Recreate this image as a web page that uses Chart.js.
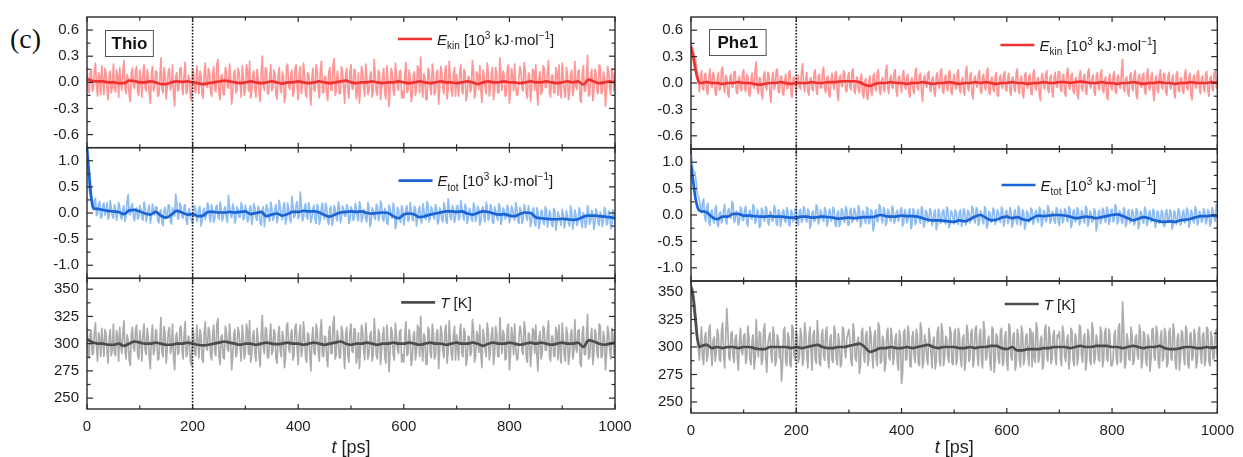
<!DOCTYPE html>
<html>
<head>
<meta charset="utf-8">
<script src="https://cdn.jsdelivr.net/npm/chart.js@4.4.1/dist/chart.umd.min.js"></script>
<style>
  html, body { margin: 0; padding: 0; background: #fff; }
  body { width: 1243px; height: 457px; position: relative; overflow: hidden; }
  .panel { position: absolute; top: 0; height: 457px; }
  #left { left: 0; width: 645px; }
  #right { left: 620px; width: 623px; }
  #tag { position: absolute; left: 10px; top: 23px; font-family: "Liberation Serif", "DejaVu Serif", serif; font-size: 28px; color: #111; }
</style>
</head>
<body>
<div id="tag">(c)</div>
<div class="panel" id="left"><canvas id="cLeft" width="645" height="457"></canvas></div>
<div class="panel" id="right"><canvas id="cRight" width="623" height="457"></canvas></div>
<script>
// ---------- time axes ----------
const RAW_STEP = 2;                 // ps between raw samples (0 … 1000)
const avgTime = [0, 4, 8, 12, 16].concat(Array.from({ length: 99 }, (_, i) => 20 + 10 * i));
const timeTicks = [0, 200, 400, 600, 800, 1000];
const markTime = 200;               // dotted marker

// ---------- tick labels ----------
const ekinTicks = [-0.6, -0.3, 0, 0.3, 0.6];
const etotTicks = [-1, -0.5, 0, 0.5, 1];
const tempTicks = [250, 275, 300, 325, 350];

// ---------- Thio: raw traces ----------
const thioEkinRaw = [
  .18,-.05,-.12,.09,.15,-.1,-.08,.13,.22,-.03,-.16,.11,.05,-.14,.19,.02,-.14,.16,.1,-.09,-.2,.07,.13,-.12,-.05,
  .21,-.08,-.11,.14,.08,-.17,.17,-.02,-.09,.12,.25,-.06,-.13,.09,.04,-.15,-.22,.1,.16,-.04,-.07,.14,.18,-.11,-.15,
  .14,.03,-.17,.11,.2,-.06,-.1,.15,.06,-.13,-.24,.08,.18,-.1,-.06,.13,.12,-.16,-.15,.05,.28,-.08,-.12,.17,.09,
  -.19,-.05,.12,.16,-.09,-.04,.2,-.14,-.27,.07,.11,-.1,-.08,.15,.17,-.06,-.14,.11,.23,-.13,-.1,.08,.05,-.18,-.21,
  .15,.1,-.09,-.12,.19,.06,-.13,.13,.07,-.15,-.18,.1,.22,-.04,-.06,.16,.12,-.11,-.16,.09,.18,-.08,-.11,.21,.26,
  -.13,-.2,.07,.09,-.14,-.14,.17,.12,-.05,-.07,.21,.04,-.25,-.12,.1,.14,-.12,-.09,.16,.11,-.03,-.17,.19,.06,-.15,
  -.08,.2,.13,-.1,.24,-.18,-.1,.07,.13,-.09,-.17,.15,.06,-.12,-.22,.1,.3,-.04,-.09,.17,.15,-.13,-.13,.06,.2,
  -.1,-.06,.14,.1,-.15,-.19,.08,.17,-.07,-.12,.12,.07,-.23,-.14,.18,.21,-.05,-.08,.1,.14,-.16,-.11,.16,.2,-.05,
  -.2,.1,.18,-.13,-.05,.22,.09,-.14,-.17,.11,.09,-.1,-.26,.05,.16,-.08,-.1,.2,.13,-.07,-.18,.15,.24,-.11,-.12,
  .07,.06,-.13,-.21,.12,.17,-.09,-.09,.2,.27,-.15,-.1,.13,.05,-.13,-.13,.18,.12,-.06,-.24,.1,.16,-.1,-.18,.12,
  .2,-.07,-.08,.15,.14,-.19,-.12,.11,-.24,-.04,.18,.13,-.06,-.16,.21,.05,-.14,-.09,.09,.12,-.17,-.11,.26,.08,-.11,
  -.15,.14,.1,-.2,-.06,.07,.16,-.13,-.19,.19,.02,-.28,-.08,.16,.11,-.1,-.15,.22,.09,-.05,-.09,.12,.14,-.18,-.1,
  -.18,.09,.23,-.12,-.09,.14,.06,-.22,-.14,.08,.12,-.15,-.08,.19,.15,-.12,.29,-.04,-.17,.1,.06,-.2,-.2,.16,.13,
  -.08,-.14,.21,.1,-.14,-.11,.11,.14,-.25,-.06,.18,.11,-.07,-.13,.13,.19,-.19,-.08,.24,.05,-.1,-.16,.09,.17,-.16,
  .09,-.05,-.16,.13,.2,-.09,-.13,.15,.11,-.21,-.15,.07,.06,-.11,-.08,.25,.14,-.18,-.12,.12,.09,-.08,.19,-.1,-.23,
  .14,.08,-.05,-.13,.22,.12,-.16,-.06,.1,.17,-.2,-.09,.17,.1,-.12,-.12,.28,.05,-.09,.13,.09,-.16,-.14,.15,.2,
  -.24,-.1,.16,.07,-.1,.21,-.05,-.15,-.14,.06,.18,.12,-.07,-.1,.23,.14,-.13,-.18,.11,.09,-.22,-.07,.15,.13,-.09,
  .2,-.1,-.26,.06,.12,-.14,-.1,.19,.16,-.06,-.06,.11,.25,-.12,-.17,.08,.08,-.12,-.12,.17,.12,-.15,.2,-.08,-.18,
  .22,.05,-.11,-.17,.17,.09,-.2,-.11,.1,.14,-.15,-.08,.24,-.05,-.08,.13,.14,-.2,-.23,.11,.19,-.1,-.1,.07,.31,
  -.16,-.14,.07,.15,-.21,-.09,.15,.1,-.09,-.13,.2,.18,-.13,-.11,.12,.06,-.27,-.1,.18,.11,-.06,-.14,.16,.09,-.1,
  .12
];
const thioEtotRaw = [
  1.25,.8,.45,.35,.3,.12,.05,.24,.28,-.05,-.02,.18,.22,-.1,-.08,.15,.19,-.04,.02,.2,-.12,-.06,.24,.1,-.05,
  -.1,.16,.08,-.14,-.02,.2,.12,-.09,-.12,.08,.14,-.16,-.05,.22,.35,-.02,-.03,.12,.18,-.08,-.15,.06,.1,-.12,-.08,
  .14,.07,-.1,-.14,.21,.1,-.16,-.05,.08,.15,-.2,-.08,.17,.03,-.04,.12,.12,-.14,-.19,.02,.06,-.18,-.24,.05,.11,
  -.06,-.08,.15,.15,-.17,-.21,.1,.04,-.06,.36,.2,-.12,-.09,.19,.12,-.07,-.1,.13,.16,-.16,-.22,.04,.09,-.1,-.14,
  -.2,.03,.14,.06,-.16,-.1,.1,.12,-.25,-.15,.05,.09,-.12,-.05,.19,.14,-.09,-.17,.16,.03,-.18,-.1,.11,.15,-.06,
  -.12,.21,.1,-.15,-.09,.08,.12,-.11,-.18,.34,.12,-.04,-.09,.17,.1,-.19,-.11,.12,.06,-.08,-.08,.2,.13,-.13,-.1,
  .15,.05,-.17,-.12,.09,.14,-.22,-.1,.18,.1,-.1,-.14,.13,.07,-.2,-.23,.06,.12,-.26,-.05,.16,.09,-.08,-.16,.21,
  .1,-.14,-.1,.1,.16,-.19,-.07,.24,.11,-.06,-.13,.14,.2,-.21,-.12,.19,.08,-.12,-.18,.32,.15,-.09,-.05,.17,.22,
  -.11,-.06,.4,.12,-.15,-.1,.12,.18,-.07,-.12,.2,.07,-.18,-.09,.09,.15,-.13,-.2,.17,.1,-.22,-.14,.11,.19,-.05,
  -.12,.19,.1,-.16,-.22,.08,.13,-.24,-.16,.14,.09,-.1,-.15,.21,.12,-.19,-.1,.13,.08,-.06,-.06,.16,.11,-.2,-.14,
  .12,.06,-.14,-.1,.18,.1,-.09,-.15,.22,.13,-.17,-.1,.07,.04,-.12,-.17,.2,.12,-.26,-.18,.1,.05,-.08,-.12,.17,
  .12,-.15,-.08,.23,.15,-.11,-.16,.09,.02,-.2,-.22,.15,.09,-.05,-.1,.19,.08,-.3,-.2,.11,.06,-.13,-.18,.14,.05,
  -.23,-.1,.08,.14,-.16,-.12,.2,.06,-.1,-.15,.13,.09,-.25,-.09,.06,.13,-.14,-.19,.18,.05,-.09,-.12,.22,.15,-.17,
  -.1,.12,.07,-.07,-.12,.16,.09,-.21,-.15,.1,.04,-.12,-.17,.2,.12,-.15,-.2,.27,.1,-.08,-.13,.14,.07,-.18,-.08,
  .11,.15,-.13,-.09,.24,.1,-.06,-.14,.17,.11,-.2,-.1,.09,.06,-.11,-.16,.19,.12,-.16,-.06,.13,.08,-.23,-.15,.08,
  .12,-.1,-.17,.21,.11,-.14,-.08,.16,.1,-.18,-.2,.12,.05,-.07,-.14,.18,.13,-.22,-.12,.1,.06,-.12,-.07,.15,.09,
  -.19,-.1,.13,.08,-.09,-.14,.2,.11,-.15,-.2,.11,.05,-.2,-.12,.16,.09,-.08,-.14,.14,.02,-.26,-.16,.06,.1,-.21,
  -.25,.1,.03,-.3,-.18,.03,.05,-.18,-.22,.12,.06,-.27,-.15,.05,-.02,-.22,-.26,.09,.04,-.33,-.2,.02,-.05,-.16,-.24,
  .07,-.02,-.29,-.18,.04,-.05,-.2,-.25,.13,.02,-.31,-.19,.06,-.04,-.24,-.16,.1,.03,-.17,-.28,.01,-.06,-.28,-.2,.14,
  .04,-.22,-.15,.05,-.02,-.32,-.2,.08,.01,-.19,-.24,.02,-.04,-.26,-.16,.11,.05,-.23,-.2,.04,-.03,-.3,-.22,.06,.02,
  -.2
];
const thioTempRaw = [
  316,296,287,309,312,290,291,311,319,297,284,310,305,288,314,301,288,313,309,292,282,306,313,289,295,
  318,291,289,312,307,284,315,298,291,310,321,294,286,308,303,285,280,309,315,296,293,313,317,289,286,
  312,302,284,310,318,294,290,314,306,287,277,307,317,290,294,313,311,285,286,304,324,292,288,316,309,
  282,296,311,315,291,296,318,287,276,306,310,290,292,314,316,294,286,309,320,288,290,307,304,283,280,
  314,309,291,289,317,305,287,313,307,286,283,310,320,296,294,315,312,289,285,308,317,292,289,318,323,
  288,281,306,308,287,286,316,311,295,293,318,303,276,288,309,313,288,291,315,310,297,284,317,305,286,
  292,318,312,290,321,283,290,307,312,291,284,314,305,288,279,309,326,296,291,315,313,287,287,306,318,
  290,294,313,309,286,282,308,316,293,288,311,306,278,287,316,319,295,292,309,313,285,289,315,318,295,
  281,309,317,288,295,320,308,287,283,310,308,290,275,305,315,292,290,318,312,293,284,313,322,289,288,
  307,306,287,279,311,316,291,291,318,325,286,290,312,305,287,287,316,311,294,277,309,315,290,283,311,
  318,293,292,314,313,282,288,310,277,296,317,312,294,285,319,305,286,291,308,311,284,289,323,307,289,
  286,313,309,281,294,307,315,288,282,317,302,274,292,315,310,290,285,319,308,295,291,311,313,283,290,
  283,308,320,289,291,313,306,280,286,307,311,285,292,317,314,288,325,296,284,309,306,281,281,315,312,
  292,287,318,309,286,289,310,313,277,294,316,310,293,287,312,317,282,292,321,305,290,285,308,316,285,
  308,295,285,312,318,291,288,314,310,280,286,307,306,289,292,322,313,283,288,311,308,292,317,290,278,
  313,307,295,288,319,311,285,294,309,315,281,291,316,309,288,288,324,305,291,312,308,285,287,314,318,
  276,290,315,306,290,318,296,285,286,305,316,311,293,290,320,313,287,283,310,308,279,293,314,312,291,
  317,290,275,306,311,286,291,316,314,294,294,310,321,288,284,307,307,289,288,315,311,285,317,292,282,
  319,305,289,284,315,308,281,290,309,313,286,292,322,296,292,312,313,282,279,310,316,290,290,306,327,
  286,288,306,314,281,291,313,309,291,287,318,316,287,289,311,305,276,290,316,310,294,286,314,308,290,
  311
];

// ---------- Thio: running averages ----------
const thioEkinAvg = [
  .04,.03,.02,.015,.01,
  .01,.01,0,0,-.01,-.01,.02,.015,0,0,
  .01,0,-.02,-.02,0,.01,.005,.01,0,-.01,
  -.02,-.01,0,.01,.02,.01,0,-.01,0,.01,
  0,-.01,0,.01,0,-.015,0,0,.01,0,
  -.01,0,.01,0,-.01,0,.01,.02,0,-.01,
  0,0,.01,0,-.01,0,0,.01,0,-.01,
  0,.01,0,-.01,0,.01,0,0,-.01,0,
  .01,0,-.02,0,.01,0,0,.01,0,0,
  -.01,0,.01,0,0,.01,0,-.01,0,.01,
  0,.01,-.025,.03,.01,-.01,0,.01,0
];
const thioEtotAvg = [
  1.25,.75,.3,.1,.08,
  .08,.06,.04,.03,.02,-.02,.05,.06,.03,-.01,
  -.03,.02,-.05,-.09,-.03,.04,.01,-.03,-.02,-.06,
  -.05,.02,.02,.01,.01,.02,.01,.02,.03,-.02,
  0,.02,-.06,-.03,-.01,-.05,-.02,.02,.02,.04,
  .03,.03,.01,-.04,-.07,-.03,.01,.02,.03,.02,
  .03,0,-.01,0,.01,0,-.06,-.1,-.03,-.01,
  -.03,-.08,-.06,-.03,-.01,.01,.03,.03,.02,.03,
  -.01,-.03,0,.03,.02,-.01,-.03,-.02,-.05,-.06,
  -.02,.01,0,-.08,-.1,-.11,-.12,-.12,-.11,-.12,
  -.13,-.12,-.07,-.05,-.05,-.06,-.07,-.08,-.1
];
const thioTempAvg = [
  304,303,302,301,300.5,
  300,300,299,299,300,298,300,302,301,300,
  300,301,300,299,299,300,300,301,300,299,
  298.5,299,300,301,302,301,300,299,300,300,
  299,300,301,300,299.5,300,301,300,300,299,
  300,301,300,299,300,301,302,300,299,300,
  300,301,300,299,300,300,301,300,300,301,
  300,299,300,301,300,300,299,300,301,300,
  300,301,300,298,300,301,300,300,301,300,
  299,300,301,300,301,300,299,300,301,300,
  300,301,297,303,302,300,299,300,301
];

// ---------- Phe1: raw traces ----------
const pheEkinRaw = [
  .44,.41,.36,.33,.28,.2,.12,.03,-.1,.08,.14,-.06,-.08,.1,.11,-.09,-.13,.06,.16,-.02,-.05,.12,.09,-.11,-.14,
  .05,.12,-.08,-.07,.15,.18,-.04,-.11,.09,.06,-.13,-.16,.07,.1,-.05,-.04,.13,.13,-.1,-.12,.03,.08,-.07,-.09,.11,
  .15,-.06,-.1,.1,.07,-.12,-.15,.04,.11,-.03,-.06,.16,.24,-.08,-.12,.06,.05,-.14,-.18,.09,.13,-.04,-.08,.12,.1,
  -.13,-.22,.05,.12,-.07,-.03,.14,.16,-.1,-.11,.07,.08,-.12,-.14,.03,.1,-.06,-.06,.12,.14,-.11,-.16,.05,.07,-.02,
  -.12,.06,.09,-.05,-.07,.12,.22,-.02,-.1,.05,.12,-.09,-.14,.04,.06,-.07,-.09,.12,.15,-.08,-.13,.08,.1,-.06,-.05,
  .13,.18,-.07,-.11,.05,.08,-.13,-.16,.04,.11,-.02,-.07,.11,.13,-.12,-.2,.06,.09,-.03,-.04,.14,.11,-.09,-.1,.07,
  .12,-.04,-.08,.13,.16,-.09,-.12,.04,.07,-.08,-.11,.06,.1,-.12,-.17,.02,.05,-.15,-.19,.03,.08,-.1,-.14,.07,.11,
  -.06,-.09,.12,.15,-.08,-.13,.03,.06,-.07,-.1,.14,.2,-.06,-.12,.05,.09,-.05,-.06,.13,.15,-.1,-.15,.06,.08,-.02,
  -.11,.09,.14,-.04,-.07,.07,.1,-.12,-.16,.03,.06,-.08,-.12,.13,.17,-.05,-.08,.09,.11,-.1,-.21,.04,.09,-.03,-.05,
  .11,.13,-.07,-.1,.05,.07,-.11,-.15,.08,.12,-.03,-.06,.14,.16,-.09,-.12,.06,.09,-.05,-.09,.12,.14,-.1,-.13,.02,
  .1,-.04,-.07,.11,.15,-.07,-.11,.03,.06,-.1,-.14,.13,.19,-.06,-.09,.08,.12,-.13,-.18,.05,.08,-.02,-.05,.1,.14,
  -.09,-.12,.07,.1,-.05,-.08,.13,.17,-.1,-.13,.04,.07,-.07,-.1,.08,.12,-.13,-.15,.05,.09,-.03,-.06,.1,.13,-.08,
  -.09,.06,.11,-.1,-.14,.05,.07,-.07,-.1,.12,.16,-.08,-.12,.04,.08,-.13,-.17,.09,.12,-.04,-.06,.07,.1,-.12,-.13,
  .11,.15,-.05,-.08,.04,.06,-.14,-.2,.08,.11,-.04,-.07,.1,.14,-.08,-.11,.06,.09,-.1,-.16,.07,.12,-.03,-.05,.13,
  .13,-.07,-.1,.08,.1,-.12,-.15,.11,.17,-.04,-.07,.08,.11,-.09,-.12,.04,.06,-.13,-.18,.09,.14,-.06,-.09,.07,.1,
  -.11,-.13,.12,.16,-.03,-.06,.05,.09,-.1,-.14,.08,.12,-.05,-.08,.11,.15,-.08,-.11,.04,.07,-.15,-.19,.06,.1,-.04,
  -.08,.08,.13,-.09,-.12,.06,.09,-.04,-.06,.14,.27,-.07,-.1,.05,.07,-.12,-.15,.09,.12,-.06,-.09,.1,.14,-.14,-.18,
  .07,.1,-.03,-.05,.09,.11,-.1,-.13,.1,.16,-.05,-.08,.07,.12,-.12,-.2,.04,.08,-.08,-.11,.09,.15,-.04,-.07,.11,
  .1,-.1,-.14,.07,.12,-.04,-.07,.05,.09,-.12,-.17,.09,.13,-.08,-.1,.05,.06,-.09,-.12,.1,.15,-.05,-.08,.07,.11,
  -.14,-.19,.05,.09,-.03,-.06,.1,.14,-.07,-.12,.06,.08,-.06,-.1,.11,.13,-.09,-.15,.04,.08,-.06,-.09,.12,.13,-.05,
  -.06
];
const pheEtotRaw = [
  1.2,1.0,.86,.82,.78,.6,.4,.35,.28,.1,.04,.25,.3,-.05,-.12,.15,.22,-.14,-.2,.05,.1,-.1,-.15,.12,.18,
  -.18,-.22,.02,.06,-.15,-.09,.1,.2,-.1,-.17,.08,.12,-.03,-.06,.26,.2,-.14,-.1,.08,.04,-.19,-.12,.15,.11,-.1,
  -.1,.1,.17,-.15,-.21,.03,.09,-.05,-.08,.2,.14,-.16,-.1,.11,.05,-.24,-.2,.13,.1,-.08,-.12,.16,.12,-.14,-.19,
  .07,.05,-.12,-.09,.18,.12,-.15,-.2,.1,.06,-.22,-.1,.06,.1,-.11,-.14,.14,.09,-.18,-.21,.09,.05,-.13,-.09,.12,
  .12,-.15,-.2,.08,.11,-.14,-.1,.16,.12,-.09,-.13,.11,.07,-.25,-.18,.05,.08,-.13,-.09,.19,.15,-.17,-.1,.1,.03,
  -.08,-.12,.14,.09,-.21,-.16,.07,.11,-.12,-.08,.15,.1,-.18,-.22,.04,.08,-.22,-.14,.12,.09,-.1,-.14,.16,.1,-.19,
  -.19,.09,.13,-.14,-.1,.13,.07,-.06,-.12,.18,.12,-.23,-.15,.08,.05,-.11,-.16,.15,.11,-.17,-.12,.1,.06,-.3,-.2,
  .06,.1,-.13,-.08,.2,.14,-.09,-.15,.14,.1,-.2,-.14,.11,.07,-.07,-.12,.17,.12,-.16,-.1,.05,.09,-.12,-.06,.1,
  .14,-.21,-.15,.1,.05,-.15,-.1,.08,.12,-.26,-.18,.12,.08,-.18,-.14,.06,.1,-.11,-.16,.16,.11,-.23,-.16,.09,.05,
  -.14,-.1,.12,.08,-.2,-.13,.05,.1,-.28,-.2,.11,.06,-.16,-.12,.07,.1,-.12,-.17,.15,.1,-.24,-.18,.08,.04,-.06,
  -.17,.1,.06,-.13,-.18,.06,.1,-.22,-.14,.12,.08,-.19,-.12,.09,.05,-.15,-.1,.17,.12,-.1,-.15,.14,.1,-.2,-.13,
  .08,.03,-.12,-.17,.16,.11,-.25,-.18,.07,.04,-.14,-.09,.13,.09,-.18,-.12,.1,.06,-.09,-.14,.15,.1,-.21,-.15,.06,
  .09,-.16,-.1,.14,.08,-.23,-.16,.06,.1,-.12,-.18,.17,.11,-.19,-.13,.1,.05,-.27,-.18,.08,.04,-.14,-.1,.13,.09,
  -.18,-.12,.05,.09,-.1,-.14,.15,.1,-.22,-.15,.09,.05,-.13,-.09,.18,.12,-.16,-.11,.07,.03,-.11,-.16,.14,.1,-.15,
  -.2,.1,.06,-.15,-.1,.12,.08,-.08,-.13,.16,.11,-.24,-.17,.06,.1,-.13,-.09,.14,.1,-.19,-.13,.09,.05,-.11,-.15,
  .17,.12,-.21,-.15,.08,.04,-.14,-.1,.12,.08,-.3,-.2,.05,.09,-.16,-.1,.13,.09,-.09,-.14,.15,.1,-.18,-.12,.1,
  .11,-.13,-.09,.2,.14,-.17,-.12,.08,.05,-.12,-.16,.14,.1,-.22,-.15,.06,.1,-.15,-.1,.1,.06,-.19,-.13,.12,.08,
  -.26,-.18,.07,.04,-.11,-.16,.15,.1,-.2,-.14,.04,.08,-.13,-.09,.11,.07,-.24,-.16,.08,.04,-.16,-.11,.09,.05,-.2,
  -.22,.06,.1,-.14,-.1,.1,.06,-.27,-.19,.08,.04,-.18,-.12,.12,.08,-.2,-.14,.05,.09,-.15,-.1,.13,.09,-.23,-.16,
  .09,.05,-.11,-.15,.16,.1,-.19,-.13,.07,.03,-.14,-.1,.12,.08,-.17,-.12,.1,.06,-.21,-.15,.14,.09,-.08,-.12,.2,
  .2
];
const pheTempRaw = [
  356,354,352,345,336,325,312,298,288,306,318,290,284,309,313,287,292,315,320,296,283,306,309,287,295,
  316,311,289,287,314,322,293,281,309,335,316,290,288,312,314,291,286,308,311,290,279,305,317,296,293,
  310,312,285,290,319,309,289,284,306,311,280,290,325,299,291,314,312,284,288,316,321,290,277,302,309,
  313,294,286,318,312,283,287,311,307,290,300,269,285,315,318,287,283,313,309,284,282,320,317,291,288,
  314,309,286,291,317,310,283,289,322,312,293,281,309,318,297,279,311,315,289,285,324,310,285,283,311,
  316,292,288,314,318,290,281,307,311,288,286,319,314,289,284,312,304,282,285,318,316,297,290,308,312,
  316,305,287,283,321,314,290,287,305,309,276,283,314,317,293,286,311,314,283,288,318,311,292,281,309,
  315,289,283,322,318,285,287,310,306,278,284,313,317,291,288,317,309,284,291,308,312,286,279,315,308,
  267,276,313,316,288,289,319,313,283,282,309,314,292,286,316,311,285,283,322,316,281,287,311,305,289,
  284,317,310,294,281,306,309,280,287,314,318,287,283,321,314,283,292,310,307,291,286,318,313,286,284,
  312,316,284,289,317,311,290,282,308,311,279,286,320,314,287,290,313,316,282,289,316,319,292,283,310,
  316,288,281,323,315,288,291,306,310,285,279,318,316,277,288,312,309,289,285,315,317,283,286,309,314,
  286,279,321,318,291,288,311,313,279,285,316,311,288,282,319,313,284,290,309,312,293,283,317,314,282,
  313,290,286,322,316,286,290,307,310,280,285,315,320,292,287,318,311,285,289,311,315,292,284,311,309,
  314,289,283,319,313,291,287,306,311,280,290,317,314,288,283,312,308,284,291,320,318,292,286,309,312,
  279,288,316,311,287,284,322,316,285,290,311,305,290,287,318,313,282,288,313,317,289,287,316,310,283,
  283,289,310,315,290,284,317,321,286,289,341,318,281,284,312,306,289,288,318,311,284,288,307,311,293,
  289,320,313,281,288,314,311,288,283,311,307,278,289,316,317,291,288,319,314,285,281,309,315,287,290,
  317,312,282,285,313,317,290,288,321,315,286,280,308,312,279,290,315,313,292,284,319,316,284,281,311,
  313,288,292,316,310,281,287,313,318,294,285,310,313,283,288,318,316,287,283,314,308,289,290,311,316,
  292
];

// ---------- Phe1: running averages ----------
const pheEkinAvg = [
  .41,.3,.17,.06,0,
  0,.01,0,0,-.01,0,0,.01,0,0,
  -.01,-.02,-.01,0,0,.01,0,-.01,0,0,
  0,.01,0,0,.01,.01,.015,.02,.02,.02,
  .01,-.02,-.035,-.01,0,0,.01,0,0,-.01,
  0,0,.01,0,-.01,0,0,.01,0,-.01,
  0,0,.01,0,.01,0,-.01,0,0,.01,
  0,0,-.01,0,0,.01,0,0,.01,.01,
  0,.01,.015,.01,0,0,.01,0,0,-.01,
  0,0,.01,0,-.01,0,0,.01,0,0,
  -.01,0,0,.01,0,0,0,.01,0
];
const pheEtotAvg = [
  .95,.65,.35,.16,.08,
  .07,.05,-.04,-.08,-.03,-.03,.02,.02,-.01,-.01,
  -.02,-.03,-.03,-.02,-.03,-.03,-.04,-.05,-.05,-.03,
  -.03,-.05,-.04,-.03,-.04,-.05,-.07,-.06,-.05,-.06,
  -.05,-.04,-.04,-.03,0,-.02,-.03,-.03,-.01,-.02,
  -.02,-.03,-.06,-.09,-.1,-.1,-.11,-.12,-.13,-.1,
  -.12,-.08,-.03,0,-.05,-.1,-.09,-.05,-.03,-.06,
  -.04,-.08,-.1,-.05,-.01,-.02,-.01,0,0,-.01,
  -.03,-.06,-.05,-.03,-.04,-.06,-.04,-.02,0,.01,
  -.02,-.06,-.1,-.07,-.04,-.06,-.1,-.12,-.13,-.12,
  -.13,-.1,-.09,-.07,-.04,-.02,-.02,-.01,-.02
];
const pheTempAvg = [
  355,345,327,308,300,
  301,302,299,300,299,300,300,299,300,300,
  299,298,298,300,300,300,300,299,300,299,
  300,301,302,300,299,299,300,300,301,302,
  303,300,295.5,297,299,299,300,299,299,300,
  299,300,301,302,300,299,300,300,300,299,
  299,300,299,300,300,301,301,299,298,300,
  297,297,298,298,298,299,299,300,300,300,
  299,300,301,300,300,301,301,301,300,300,
  299,300,301,300,299,300,300,301,299,298,
  298,299,300,300,299,299,300,299,300
];

// ---------- styling ----------
const SANS = '"Liberation Sans", Arial, Helvetica, sans-serif';
const AXIS = '#2a2a2a';
const TEXT = '#1e1e1e';
const RAW_WIDTH = 1.7;
const AVG_WIDTH = 2.7;
const COLORS = {
  ekin: { raw: '#ff9696', avg: '#ee3232' },
  etot: { raw: '#8ebdf3', avg: '#1a63d3' },
  temp: { raw: '#acacac', avg: '#4c4c4c' }
};
const LEGENDS = {
  yEk: [{ t: 'E', italic: true }, { t: 'kin', sub: true }, { t: ' [10' }, { t: '3', sup: true }, { t: ' kJ\u00B7mol' }, { t: '\u22121', sup: true }, { t: ']' }],
  yEt: [{ t: 'E', italic: true }, { t: 'tot', sub: true }, { t: ' [10' }, { t: '3', sup: true }, { t: ' kJ\u00B7mol' }, { t: '\u22121', sup: true }, { t: ']' }],
  yT:  [{ t: 'T', italic: true }, { t: ' [K]' }]
};
const ROWS = [
  { id: 'yEk', ticks: ekinTicks, color: COLORS.ekin.avg },
  { id: 'yEt', ticks: etotTicks, color: COLORS.etot.avg },
  { id: 'yT',  ticks: tempTicks, color: COLORS.temp.avg }
];

function rawPoints(values) { return values.map((v, i) => ({ x: i * RAW_STEP, y: v })); }
function avgPoints(values) { return values.map((v, i) => ({ x: avgTime[i], y: v })); }

function drawRich(ctx, x, baseline, parts, size) {
  parts.forEach(p => {
    const fs = (p.sub || p.sup) ? Math.round(size * 0.68) : size;
    ctx.font = (p.italic ? 'italic ' : '') + fs + 'px ' + SANS;
    const dy = p.sub ? size * 0.3 : p.sup ? -size * 0.4 : 0;
    ctx.fillText(p.t, x, baseline + dy);
    x += ctx.measureText(p.t).width;
  });
  return x;
}

function line(ctx, x1, y1, x2, y2) { ctx.beginPath(); ctx.moveTo(x1, y1); ctx.lineTo(x2, y2); ctx.stroke(); }

// frame, inward ticks, marker line, legends, sample tag and axis title
const framePlugin = {
  id: 'frame',
  afterDatasetsDraw(chart) {
    const { ctx, chartArea: a, scales } = chart;
    const spec = chart.$spec;
    const xs = scales.x;
    ctx.save();

    // dotted marker across all rows
    const xm = xs.getPixelForValue(markTime);
    ctx.strokeStyle = '#111';
    ctx.lineWidth = 1.6;
    ctx.setLineDash([1.6, 1.6]);
    line(ctx, xm, a.top, xm, a.bottom);
    ctx.setLineDash([]);

    ROWS.forEach((row, r) => {
      const s = scales[row.id];
      ctx.strokeStyle = AXIS;
      ctx.lineWidth = 1.4;
      ctx.strokeRect(a.left, s.top, a.right - a.left, s.bottom - s.top);

      // y ticks (major + halfway minor), both sides, pointing inward
      ctx.lineWidth = 1.2;
      row.ticks.forEach((v, i) => {
        const y = s.getPixelForValue(v);
        line(ctx, a.left, y, a.left + 6, y);
        line(ctx, a.right, y, a.right - 6, y);
        if (i > 0) {
          const ym = s.getPixelForValue((v + row.ticks[i - 1]) / 2);
          line(ctx, a.left, ym, a.left + 3.5, ym);
          line(ctx, a.right, ym, a.right - 3.5, ym);
        }
      });
      const stepY = row.ticks[1] - row.ticks[0];
      [row.ticks[0] - stepY / 2, row.ticks[row.ticks.length - 1] + stepY / 2].forEach(v => {
        if (v > s.min && v < s.max) {
          const y = s.getPixelForValue(v);
          line(ctx, a.left, y, a.left + 3.5, y);
          line(ctx, a.right, y, a.right - 3.5, y);
        }
      });

      // x ticks on top and bottom of each row, pointing inward
      timeTicks.forEach((v, i) => {
        const x = xs.getPixelForValue(v);
        line(ctx, x, s.top, x, s.top + 5);
        line(ctx, x, s.bottom, x, s.bottom - 5);
        if (i > 0) {
          const xh = xs.getPixelForValue((v + timeTicks[i - 1]) / 2);
          line(ctx, xh, s.top, xh, s.top + 3.5);
          line(ctx, xh, s.bottom, xh, s.bottom - 3.5);
        }
      });

      // legend: line sample + label
      const lx = a.left + spec.legendFrac[r] * (a.right - a.left);
      const ly = s.top + spec.legendDy[r];
      ctx.strokeStyle = row.color;
      ctx.lineWidth = 2.6;
      line(ctx, lx, ly, lx + 34, ly);
      ctx.fillStyle = TEXT;
      ctx.textBaseline = 'alphabetic';
      ctx.textAlign = 'left';
      drawRich(ctx, lx + 39, ly + 5.5, LEGENDS[row.id], 15);
    });

    // sample tag box
    const top = scales.yEk.top;
    ctx.font = 'bold 17px ' + SANS;
    const tw = ctx.measureText(spec.name).width;
    const bx = a.left + spec.tagDx, by = top + spec.tagDy, bw = tw + spec.tagPad * 2, bh = 26;
    ctx.fillStyle = '#fff';
    ctx.fillRect(bx, by, bw, bh);
    ctx.strokeStyle = '#555';
    ctx.lineWidth = 1;
    ctx.strokeRect(bx + 0.5, by + 0.5, bw, bh);
    ctx.fillStyle = '#111';
    ctx.textBaseline = 'middle';
    ctx.fillText(spec.name, bx + spec.tagPad + 0.5, by + bh / 2 + 1.5);

    // x axis title: t [ps]
    const title = [{ t: 't', italic: true }, { t: ' [ps]' }];
    let w = 0;
    ctx.font = 'italic 18px ' + SANS; w += ctx.measureText('t').width;
    ctx.font = '18px ' + SANS; w += ctx.measureText(' [ps]').width;
    ctx.fillStyle = TEXT;
    ctx.textBaseline = 'alphabetic';
    drawRich(ctx, (a.left + a.right) / 2 - w / 2, spec.titleBaseline, title, 18);

    ctx.restore();
  }
};

function rowScale(min, max, ticks, fmt, axisWidth) {
  return {
    type: 'linear', stack: 'rows', stackWeight: 1, position: 'left', min, max,
    afterBuildTicks(s) { s.ticks = ticks.map(v => ({ value: v })); },
    afterFit(s) { s.width = axisWidth; },
    grid: { display: false, drawTicks: false },
    border: { display: false },
    ticks: { autoSkip: false, padding: 8, color: TEXT, font: { family: SANS, size: 15 }, callback: fmt }
  };
}

function buildPanel(spec) {
  const ds = (data, axis, color, width, order, smooth) => ({
    data, yAxisID: axis, borderColor: color, borderWidth: width, pointRadius: 0,
    fill: false, order, tension: smooth ? 0.3 : 0, cubicInterpolationMode: smooth ? 'monotone' : 'default',
    borderJoinStyle: 'round'
  });
  return new Chart(document.getElementById(spec.canvas), {
    type: 'line',
    data: {
      datasets: [
        ds(avgPoints(spec.ekAvg), 'yEk', COLORS.ekin.avg, AVG_WIDTH, 0, true),
        ds(avgPoints(spec.etAvg), 'yEt', COLORS.etot.avg, AVG_WIDTH, 0, true),
        ds(avgPoints(spec.tAvg), 'yT', COLORS.temp.avg, AVG_WIDTH, 0, true),
        ds(rawPoints(spec.ekRaw), 'yEk', COLORS.ekin.raw, RAW_WIDTH, 1, false),
        ds(rawPoints(spec.etRaw), 'yEt', COLORS.etot.raw, RAW_WIDTH, 1, false),
        ds(rawPoints(spec.tRaw), 'yT', COLORS.temp.raw, RAW_WIDTH, 1, false)
      ]
    },
    options: {
      responsive: false, animation: false, events: [],
      layout: { padding: { top: 15, right: spec.padRight, left: 0, bottom: 0 } },
      plugins: { legend: { display: false }, tooltip: { enabled: false } },
      scales: {
        x: {
          type: 'linear', min: 0, max: 1000, position: 'bottom',
          afterBuildTicks(s) { s.ticks = timeTicks.map(v => ({ value: v })); },
          afterFit(s) { s.height = spec.xAxisHeight; },
          grid: { display: false, drawTicks: false },
          border: { display: false },
          ticks: { autoSkip: false, padding: 9, maxRotation: 0, color: TEXT, font: { family: SANS, size: 15 }, callback: v => String(v) }
        },
        yT: rowScale(240, 360, tempTicks, v => String(v), spec.axisWidth),
        yEt: rowScale(-1.25, 1.25, etotTicks, v => v.toFixed(1), spec.axisWidth),
        yEk: rowScale(-0.75, 0.75, ekinTicks, v => v.toFixed(1), spec.axisWidth)
      }
    },
    plugins: [{ id: 'spec', beforeInit(c) { c.$spec = spec; } }, framePlugin]
  });
}

buildPanel({
  canvas: 'cLeft', name: 'Thio',
  ekRaw: thioEkinRaw, ekAvg: thioEkinAvg, etRaw: thioEtotRaw, etAvg: thioEtotAvg, tRaw: thioTempRaw, tAvg: thioTempAvg,
  axisWidth: 87, padRight: 30, xAxisHeight: 48,
  legendFrac: [0.589, 0.590, 0.595], legendDy: [22, 33, 24],
  tagDx: 18, tagDy: 13, tagPad: 6, titleBaseline: 453
});
buildPanel({
  canvas: 'cRight', name: 'Phe1',
  ekRaw: pheEkinRaw, ekAvg: pheEkinAvg, etRaw: pheEtotRaw, etAvg: pheEtotAvg, tRaw: pheTempRaw, tAvg: pheTempAvg,
  axisWidth: 71, padRight: 20, xAxisHeight: 44,
  legendFrac: [0.588, 0.590, 0.596], legendDy: [28, 36, 23],
  tagDx: 18, tagDy: 12, tagPad: 8, titleBaseline: 453
});
</script>
</body>
</html>
